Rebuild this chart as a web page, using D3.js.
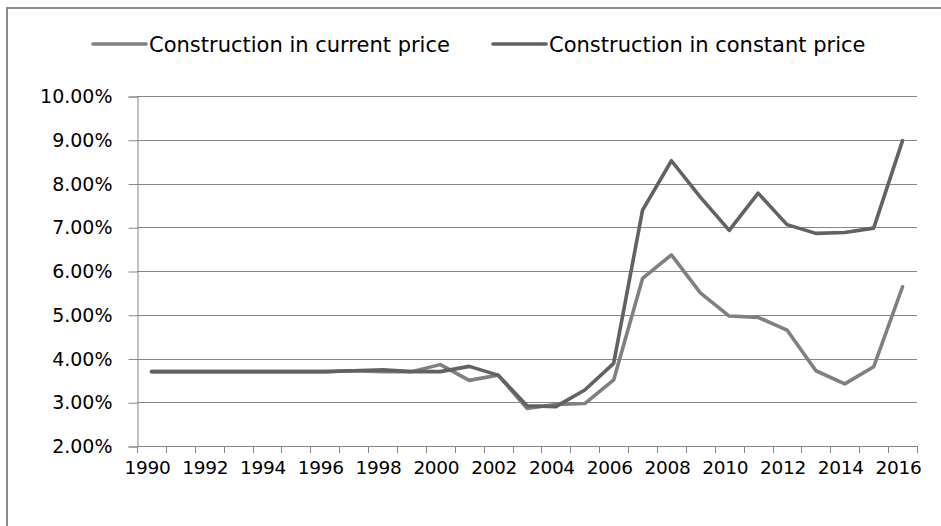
<!DOCTYPE html>
<html lang="en">
<head>
    <meta charset="utf-8">
    <script src="https://d3js.org/d3.v7.min.js"></script>
    <style type="text/css">
        body {
            margin: 0;
            overflow: hidden;
            background: #fff;
        }
        text {
            font-family: "DejaVu Sans", sans-serif;
            fill: #000;
        }
    </style>
</head>
<body>
<svg id="chart"></svg>
<script type="text/javascript">
    var width = 941;
    var height = 526;

    // data
    var years = [1990, 1991, 1992, 1993, 1994, 1995, 1996, 1997, 1998, 1999,
        2000, 2001, 2002, 2003, 2004, 2005, 2006, 2007, 2008, 2009,
        2010, 2011, 2012, 2013, 2014, 2015, 2016];
    var currentPrice = [3.70, 3.70, 3.70, 3.70, 3.70, 3.70, 3.70, 3.72, 3.70, 3.70,
        3.86, 3.50, 3.62, 2.86, 2.95, 2.97, 3.51, 5.83, 6.37, 5.50,
        4.97, 4.94, 4.65, 3.72, 3.42, 3.81, 5.64];
    var constantPrice = [3.70, 3.70, 3.70, 3.70, 3.70, 3.70, 3.70, 3.72, 3.74, 3.70,
        3.70, 3.82, 3.62, 2.92, 2.90, 3.28, 3.89, 7.39, 8.52, 7.69,
        6.93, 7.78, 7.06, 6.86, 6.88, 6.98, 8.98];
    var yTicks = [2, 3, 4, 5, 6, 7, 8, 9, 10];
    var seriesNames = ["Construction in current price", "Construction in constant price"];

    var colors = ["#808080", "#626262"];

    var svg = d3.select("#chart")
        .attr("width", width)
        .attr("height", height);

    // outer chart border (only top and left are visible)
    svg.append("rect")
        .attr("x", 7)
        .attr("y", 8)
        .attr("width", 1200)
        .attr("height", 1200)
        .style("fill", "none")
        .style("stroke", "#8c8c8c")
        .style("stroke-width", 2);

    var x = d3.scaleBand()
        .domain(years)
        .range([137, 917])
        .padding(0);

    var y = d3.scaleLinear()
        .domain([2, 10])
        .range([446, 96]);

    // gridlines
    svg.append("g")
        .selectAll("line")
        .data(yTicks)
        .join("line")
        .attr("x1", 137)
        .attr("x2", 917)
        .attr("y1", function(d) { return Math.round(y(d)) + 0.5; })
        .attr("y2", function(d) { return Math.round(y(d)) + 0.5; })
        .style("stroke", "#868686")
        .style("stroke-width", 1);

    // y axis
    var yAxis = svg.append("g")
        .attr("transform", "translate(137.5,0.5)")
        .call(d3.axisLeft(y)
            .tickValues(yTicks)
            .tickSize(9)
            .tickPadding(16)
            .tickFormat(function(d) { return d.toFixed(2) + "%"; }));
    yAxis.select(".domain").style("stroke", "#868686");
    yAxis.selectAll(".tick line").style("stroke", "#868686");
    yAxis.selectAll("text")
        .style("font-size", "19px")
        .style("font-family", "DejaVu Sans")
        .attr("fill", "#000");

    // x axis: tick marks on category boundaries, labels every other year
    var bounds = d3.range(years.length + 1).map(function(i) { return 137 + i * x.step(); });
    svg.append("g")
        .selectAll("line")
        .data(bounds)
        .join("line")
        .attr("x1", function(d) { return Math.round(d) + 0.5; })
        .attr("x2", function(d) { return Math.round(d) + 0.5; })
        .attr("y1", 446)
        .attr("y2", 453)
        .style("stroke", "#868686")
        .style("stroke-width", 1);

    svg.append("g")
        .selectAll("text")
        .data(years.filter(function(d, i) { return i % 2 === 0; }))
        .join("text")
        .attr("x", function(d) { return x(d) + x.bandwidth() / 2 - 4; })
        .attr("y", 474)
        .attr("text-anchor", "middle")
        .style("font-size", "18.5px")
        .style("letter-spacing", "-0.3px")
        .text(function(d) { return d; });

    // lines
    var series = [currentPrice, constantPrice];
    var line = d3.line()
        .x(function(d, i) { return x(years[i]) + x.bandwidth() / 2; })
        .y(function(d) { return y(d); });

    svg.append("g")
        .selectAll("path")
        .data(series)
        .join("path")
        .attr("d", line)
        .style("fill", "none")
        .style("stroke", function(d, i) { return colors[i]; })
        .style("stroke-width", 3.6)
        .style("stroke-linejoin", "round")
        .style("stroke-linecap", "round");

    // legend
    var legendX = [93, 493];
    var legend = svg.append("g")
        .selectAll("g")
        .data(seriesNames)
        .join("g")
        .attr("transform", function(d, i) { return "translate(" + legendX[i] + ",44)"; });

    legend.append("line")
        .attr("x1", 0)
        .attr("x2", 53)
        .attr("y1", 0)
        .attr("y2", 0)
        .style("stroke", function(d, i) { return colors[i]; })
        .style("stroke-width", 3.6)
        .style("stroke-linecap", "round");

    legend.append("text")
        .attr("x", 56)
        .attr("y", 8)
        .style("font-size", "21px")
        .text(function(d) { return d; });
</script>
</body>
</html>
